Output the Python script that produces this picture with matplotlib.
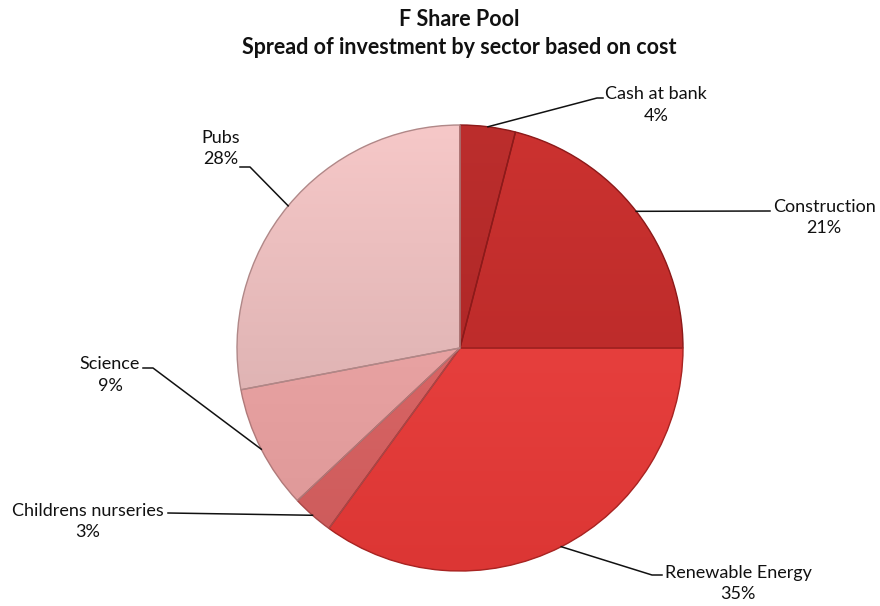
import numpy as np
import matplotlib
matplotlib.use("Agg")
import matplotlib.pyplot as plt
from matplotlib.colors import to_rgb
from matplotlib.patches import PathPatch

plt.rcParams['font.family'] = ['Lato', 'DejaVu Sans']

# Portfolio split by sector (percent of cost)
sectors = ["Cash at bank", "Construction", "Renewable Energy",
           "Childrens nurseries", "Science", "Pubs"]
shares = [4, 21, 35, 3, 9, 28]

# Light (top) and dark (bottom) tone for each slice
tone_top = ["#bc2e2d", "#cc3230", "#f04846", "#e47070", "#f4aeae", "#f6c8c8"]
tone_bottom = ["#a42222", "#b02626", "#dc3634", "#cc5a5a", "#dc9696", "#d0a6a6"]
edge_cols = ["#8c1a1a", "#8c1a1a", "#a82422", "#a84848", "#b07a7a", "#b08888"]

W, H = 880, 606
fig = plt.figure(figsize=(W / 100, H / 100), dpi=100)
ax = fig.add_axes([0, 0, 1, 1])

cx, cy, R = 460, H - 348, 223

wedges, _ = ax.pie(shares, startangle=90, counterclock=False,
                   center=(cx, cy), radius=R, frame=True,
                   colors=tone_top,
                   wedgeprops=dict(edgecolor='none', linewidth=0))
ax.set_xlim(0, W)
ax.set_ylim(0, H)
ax.set_aspect('equal')
ax.axis('off')

# vertical shading inside each slice, plus a darker rim
n = 256
t = np.linspace(0, 1, n)[:, None]
for w, ct, cb, ec in zip(wedges, tone_top, tone_bottom, edge_cols):
    a = np.array(to_rgb(ct))
    b = np.array(to_rgb(cb))
    img = (1 - t)[..., None] * a + t[..., None] * b
    img = np.repeat(img, 4, axis=1)
    im = ax.imshow(img, extent=[cx - R, cx + R, cy - R, cy + R],
                   origin='upper', aspect='auto', zorder=2,
                   interpolation='bilinear')
    im.set_clip_path(w)
    w.set_zorder(1)
    rim = PathPatch(w.get_path(), fill=False, edgecolor=ec, linewidth=1.0,
                    zorder=3, transform=w.get_transform())
    ax.add_patch(rim)

# label text anchors (centre of text block) and leader-line elbows
label_xy = [(656, 105), (824, 217.5), (738, 583.5), (88, 521.5), (110, 375), (221, 148.5)]
elbows = [[(597, 98), (603, 98)],
          [(770, 211)],
          [(652, 575), (662, 575)],
          [(168, 513)],
          [(153, 368), (143, 368)],
          [(250, 167), (240, 167)]]

cum = np.cumsum([0] + shares)
for i, (name, val) in enumerate(zip(sectors, shares)):
    mid = 90 - 360 * (cum[i] + val / 2) / sum(shares)
    sx = cx + R * np.cos(np.radians(mid))
    sy = cy + R * np.sin(np.radians(mid))
    xs = [sx] + [p[0] for p in elbows[i]]
    ys = [sy] + [H - p[1] for p in elbows[i]]
    ax.plot(xs, ys, color='#111111', lw=1.1, zorder=4)
    lx, ly = label_xy[i]
    ax.text(lx, H - ly, f"{name}\n{val}%", ha='center', va='center',
            fontsize=13, linespacing=1.45, color='#111111', zorder=5)

ax.text(459, H - 20, "F Share Pool", ha='center', va='center',
        fontsize=15.5, fontweight='bold', color='#111111')
ax.text(459, H - 48, "Spread of investment by sector based on cost",
        ha='center', va='center', fontsize=15.5, fontweight='bold',
        color='#111111')

fig.savefig("out.png", dpi=100, facecolor='white')
